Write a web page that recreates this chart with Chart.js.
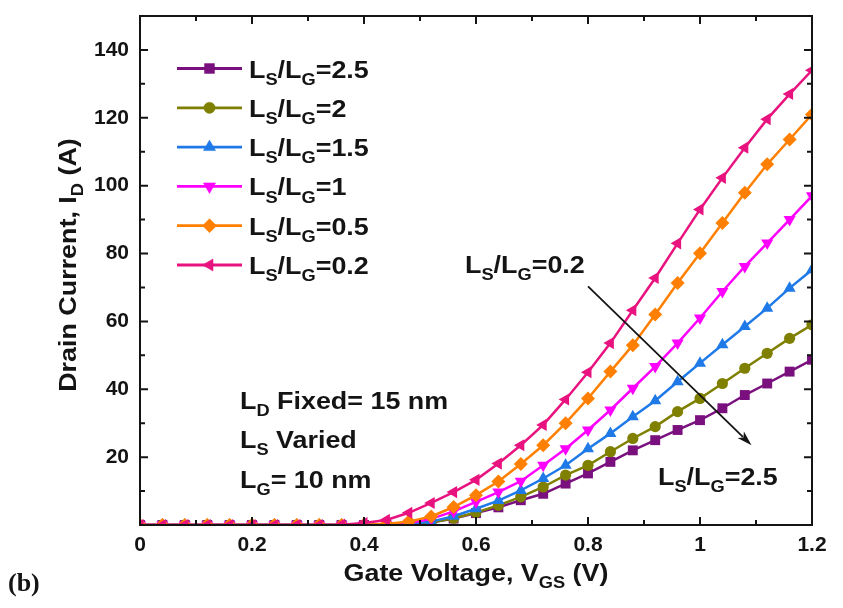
<!DOCTYPE html>
<html>
<head>
<meta charset="utf-8">
<script src="https://cdn.jsdelivr.net/npm/chart.js@4/dist/chart.umd.min.js"></script>
<style>
html,body{margin:0;padding:0;background:#fff;}
#wrap{width:843px;height:608px;position:relative;}
</style>
</head>
<body>
<div id="wrap"><canvas id="c" width="843" height="608"></canvas></div>
<script>
// ---------------- data ----------------
const vgs = [0,0.04,0.08,0.12,0.16,0.2,0.24,0.28,0.32,0.36,0.4,0.44,0.48,0.52,0.56,0.6,0.64,0.68,0.72,0.76,0.8,0.84,0.88,0.92,0.96,1.0,1.04,1.08,1.12,1.16,1.2];
const ratioLabels = ['2.5','2','1.5','1','0.5','0.2'];
const id_r2_5 = [0,0,0,0,0,0,0,0,0,0,0,0,0.1,0.7,1.9,3.5,5.2,7.3,9.2,12.2,15.2,18.6,22.0,25.0,28.0,30.9,34.4,38.3,41.7,45.2,48.7];
const id_r2   = [0,0,0,0,0,0,0,0,0,0,0,0,0.1,0.7,2.0,3.7,5.8,8.3,11.2,14.7,17.6,21.6,25.5,29.0,33.4,37.3,41.7,46.2,50.6,55.0,59.0];
const id_r1_5 = [0,0,0,0,0,0,0,0,0,0,0,0,0.2,1.0,2.6,4.8,7.2,10.2,13.7,17.6,22.5,27.0,31.9,36.6,42.2,47.7,53.1,58.5,63.9,69.8,75.2];
const id_r1   = [0,0,0,0,0,0,0,0,0,0,0,0.1,0.5,1.8,4.0,6.8,9.7,12.9,17.6,22.5,28.0,33.9,40.3,46.7,53.6,61.0,68.8,76.2,83.1,90.0,97.0];
const id_r0_5 = [0,0,0,0,0,0,0,0,0,0,0.1,0.3,1.0,2.5,5.3,8.8,12.8,18.0,23.5,30.0,37.3,45.2,53.0,62.0,71.3,80.1,89.0,97.9,106.3,113.6,121.0];
const id_r0_2 = [0,0,0,0,0,0,0,0,0,0.1,0.6,1.5,3.6,6.5,9.7,13.3,18.1,23.5,29.5,37.0,45.0,53.6,63.3,72.8,83.0,93.0,102.3,111.2,119.6,127.0,134.0];
const xTickVals   = [0,0.2,0.4,0.6,0.8,1.0,1.2];
const xTickLabels = ['0','0.2','0.4','0.6','0.8','1','1.2'];
const yTickVals   = [20,40,60,80,100,120,140];
const yTickLabels = ['20','40','60','80','100','120','140'];

// ---------------- styles ----------------
const colors = ['#7a0f7e','#7f7f00','#1f7ae8','#ff00ff','#ff8000','#e8137f'];
const pStyles = ['rect','circle','triangle','triangle','rectRot','triangle'];
const pRot = [0,0,0,180,0,270];
const pRad = [7,5.6,7,7,7,7];
const series = [id_r2_5,id_r2,id_r1_5,id_r1,id_r0_5,id_r0_2];

const FONT = '"Liberation Sans", Arial, Helvetica, sans-serif';
const INK = '#141414';

function toXY(ys){ return vgs.map((v,i)=>({x:v,y:ys[i]})); }

const datasets = series.map((s,i)=>({
  label: 'LS/LG=' + ratioLabels[i],
  data: toXY(s),
  borderColor: colors[i],
  backgroundColor: colors[i],
  pointBackgroundColor: colors[i],
  pointBorderColor: colors[i],
  pointBorderWidth: 0,
  pointStyle: pStyles[i],
  pointRotation: pRot[i],
  pointRadius: pRad[i],
  borderWidth: 2.5,
  tension: 0,
  order: 5 - i
}));

// ---------------- rich text helpers ----------------
function richWidth(ctx, parts, size){
  let w = 0;
  for (const [t,sub] of parts){
    ctx.font = 'bold ' + (sub ? size*0.68 : size) + 'px ' + FONT;
    w += ctx.measureText(t).width;
  }
  return w;
}
function drawRich(ctx, x, y, parts, size, stretch){
  ctx.save();
  ctx.translate(x, y);
  ctx.scale(stretch, 1);
  ctx.textAlign = 'left';
  ctx.textBaseline = 'alphabetic';
  ctx.fillStyle = INK;
  let cx = 0;
  for (const [t,sub] of parts){
    const fs = sub ? size*0.68 : size;
    ctx.font = 'bold ' + fs + 'px ' + FONT;
    ctx.fillText(t, cx, sub ? size*0.3 : 0);
    cx += ctx.measureText(t).width;
  }
  ctx.restore();
}
function ratioParts(r){ return [['L',0],['S',1],['/L',0],['G',1],['='+r,0]]; }

const STRETCH = 1.12;
const TS = 24;

const decor = {
  id: 'decor',
  afterDatasetsDraw(chart){
    const ctx = chart.ctx;
    const a = chart.chartArea;
    const xs = chart.scales.x, ys = chart.scales.y;
    ctx.save();
    // frame
    ctx.strokeStyle = INK;
    ctx.lineWidth = 2;
    ctx.strokeRect(a.left, a.top, a.right - a.left, a.bottom - a.top);
    // inward ticks on all sides
    ctx.lineWidth = 2;
    ctx.beginPath();
    xs.ticks.forEach(t=>{
      const px = xs.getPixelForValue(t.value);
      const major = xTickVals.some(v=>Math.abs(v-t.value)<1e-6);
      const L = major ? 8 : 5;
      ctx.moveTo(px, a.bottom); ctx.lineTo(px, a.bottom - L);
      ctx.moveTo(px, a.top); ctx.lineTo(px, a.top + L);
    });
    ys.ticks.forEach(t=>{
      const py = ys.getPixelForValue(t.value);
      const major = (Math.round(t.value) % 20 === 0);
      const L = major ? 8 : 5;
      ctx.moveTo(a.left, py); ctx.lineTo(a.left + L, py);
      ctx.moveTo(a.right, py); ctx.lineTo(a.right - L, py);
    });
    ctx.stroke();

    // legend
    const legX1 = 177, legX2 = 242, legMark = 209.5, legTextX = 249;
    const legY0 = 68.5, legDY = 39.3;
    chart.data.datasets.forEach((ds,i)=>{
      const y = legY0 + i*legDY;
      ctx.strokeStyle = ds.borderColor;
      ctx.lineWidth = 2.8;
      ctx.beginPath(); ctx.moveTo(legX1, y); ctx.lineTo(legX2, y); ctx.stroke();
      ctx.fillStyle = ds.backgroundColor;
      ctx.strokeStyle = ds.borderColor;
      ctx.lineWidth = 0.5;
      Chart.helpers.drawPoint(ctx, {pointStyle: ds.pointStyle, rotation: ds.pointRotation, radius: ds.pointRadius, borderWidth: 0.5}, legMark, y);
      drawRich(ctx, legTextX, y + 9, ratioParts(ratioLabels[i]), TS, STRETCH);
    });

    // annotations
    drawRich(ctx, 240, 409, [['L',0],['D',1],[' Fixed= 15 nm',0]], TS, STRETCH);
    drawRich(ctx, 240, 448, [['L',0],['S',1],[' Varied',0]], TS, STRETCH);
    drawRich(ctx, 240, 488, [['L',0],['G',1],['= 10 nm',0]], TS, STRETCH);
    drawRich(ctx, 465, 273, ratioParts('0.2'), TS, STRETCH);
    drawRich(ctx, 658, 485, ratioParts('2.5'), TS, STRETCH);

    // arrow
    const x0 = xs.getPixelForValue(0.80), y0 = ys.getPixelForValue(70.3);
    const x1 = xs.getPixelForValue(1.092), y1 = ys.getPixelForValue(23.5);
    const ang = Math.atan2(y1 - y0, x1 - x0);
    const hl = 15, hw = 4.5;
    ctx.strokeStyle = INK; ctx.fillStyle = INK; ctx.lineWidth = 1.8;
    ctx.beginPath();
    ctx.moveTo(x0, y0);
    ctx.lineTo(x1 - Math.cos(ang)*hl*0.8, y1 - Math.sin(ang)*hl*0.8);
    ctx.stroke();
    ctx.beginPath();
    ctx.moveTo(x1, y1);
    ctx.lineTo(x1 - Math.cos(ang)*hl - Math.sin(ang)*hw, y1 - Math.sin(ang)*hl + Math.cos(ang)*hw);
    ctx.lineTo(x1 - Math.cos(ang)*hl*0.75, y1 - Math.sin(ang)*hl*0.75);
    ctx.lineTo(x1 - Math.cos(ang)*hl + Math.sin(ang)*hw, y1 - Math.sin(ang)*hl - Math.cos(ang)*hw);
    ctx.closePath();
    ctx.fill();

    // axis titles
    const xt = [['Gate Voltage, V',0],['GS',1],[' (V)',0]];
    const xw = richWidth(ctx, xt, TS) * STRETCH;
    drawRich(ctx, (a.left + a.right)/2 - xw/2, 581, xt, TS, STRETCH);

    const yt = [['Drain Current, I',0],['D',1],[' (A)',0]];
    const yw = richWidth(ctx, yt, TS) * STRETCH;
    ctx.save();
    ctx.translate(76, 265);
    ctx.rotate(-Math.PI/2);
    drawRich(ctx, -yw/2, 0, yt, TS, STRETCH);
    ctx.restore();

    // panel label
    ctx.fillStyle = INK;
    ctx.font = 'bold 26px "Liberation Serif", "Times New Roman", serif';
    ctx.textAlign = 'left';
    ctx.textBaseline = 'alphabetic';
    ctx.fillText('(b)', 8, 591);
    ctx.restore();
  }
};

new Chart(document.getElementById('c'), {
  type: 'line',
  data: { datasets },
  options: {
    responsive: false,
    animation: false,
    devicePixelRatio: 1,
    layout: { padding: { left: 0, right: 31, top: 16, bottom: 0 } },
    plugins: { legend: { display: false }, tooltip: { enabled: false } },
    scales: {
      x: {
        type: 'linear', min: 0, max: 1.2,
        grid: { display: false, drawTicks: false },
        border: { display: false },
        ticks: {
          stepSize: 0.1, autoSkip: false, maxRotation: 0, padding: 8,
          color: INK, font: { family: FONT, size: 21, weight: 'bold' },
          callback: (v)=>{ const k = xTickVals.findIndex(t=>Math.abs(t-v)<1e-6); return k>=0 ? xTickLabels[k] : ''; }
        },
        afterFit: (s)=>{ s.height = 83; s.paddingLeft = 0; s.paddingRight = 0; }
      },
      y: {
        type: 'linear', min: 0, max: 150,
        grid: { display: false, drawTicks: false },
        border: { display: false },
        ticks: {
          stepSize: 10, autoSkip: false, padding: 11,
          color: INK, font: { family: FONT, size: 21, weight: 'bold' },
          callback: (v)=>{ const k = yTickVals.findIndex(t=>Math.abs(t-v)<1e-6); return k>=0 ? yTickLabels[k] : ''; }
        },
        afterFit: (s)=>{ s.width = 140; s.paddingTop = 0; s.paddingBottom = 0; }
      }
    }
  },
  plugins: [decor]
});
</script>
</body>
</html>
